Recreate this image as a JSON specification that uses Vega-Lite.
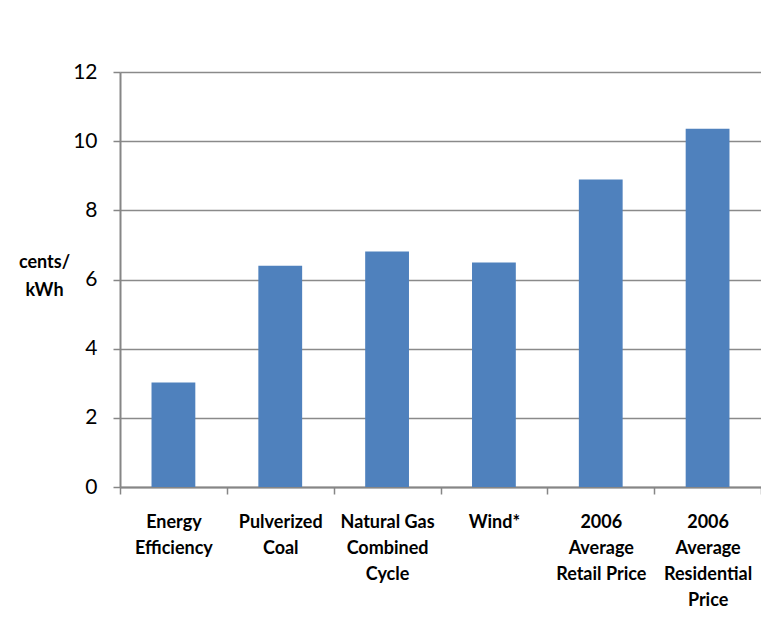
{
  "$schema": "https://vega.github.io/schema/vega-lite/v6.json",
  "width": 641,
  "height": 415,
  "autosize": {"type": "none"},
  "padding": {"left": 120, "top": 72, "right": 0, "bottom": 141},
  "background": "white",
  "config": {"view": {"stroke": null}, "font": "Lato"},
  "data": {
    "values": [
      {"resource": "Energy Efficiency", "cost": 3.02},
      {"resource": "Pulverized Coal", "cost": 6.4},
      {"resource": "Natural Gas Combined Cycle", "cost": 6.81},
      {"resource": "Wind*", "cost": 6.49},
      {"resource": "2006 Average Retail Price", "cost": 8.89},
      {"resource": "2006 Average Residential Price", "cost": 10.36}
    ]
  },
  "mark": {"type": "bar", "color": "#4F81BD", "width": {"band": 0.41}},
  "encoding": {
    "x": {
      "field": "resource",
      "type": "nominal",
      "sort": null,
      "scale": {"paddingInner": 0, "paddingOuter": 0},
      "axis": {
        "title": null,
        "labelAngle": 0,
        "labelFont": "Lato",
        "labelFontWeight": "bold",
        "labelFontSize": 18,
        "labelColor": "#000000",
        "labelLineHeight": 26,
        "labelBaseline": "top",
        "labelPadding": 19,
        "labelExpr": "{'Energy Efficiency':['Energy','Efficiency'],'Pulverized Coal':['Pulverized','Coal'],'Natural Gas Combined Cycle':['Natural Gas','Combined','Cycle'],'Wind*':['Wind*'],'2006 Average Retail Price':['2006','Average','Retail Price'],'2006 Average Residential Price':['2006','Average','Residential','Price']}[datum.label]",
        "labelLimit": 200,
        "tickBand": "extent",
        "tickSize": 7,
        "tickColor": "#868686",
        "tickWidth": 1.5,
        "domainColor": "#868686",
        "domainWidth": 2,
        "grid": false
      }
    },
    "y": {
      "field": "cost",
      "type": "quantitative",
      "scale": {"domain": [0, 12], "nice": false},
      "axis": {
        "values": [0, 2, 4, 6, 8, 10, 12],
        "title": ["cents/", "kWh"],
        "titleAngle": 0,
        "titleFont": "Lato",
        "titleFontWeight": "bold",
        "titleFontSize": 18,
        "titleColor": "#000000",
        "titleLineHeight": 28,
        "titleAlign": "center",
        "titleBaseline": "middle",
        "titleX": -76,
        "titleY": 190,
        "labelFont": "Lato",
        "labelFontSize": 21,
        "labelColor": "#000000",
        "labelPadding": 16,
        "tickSize": 7,
        "tickColor": "#868686",
        "tickWidth": 1.5,
        "domainColor": "#868686",
        "domainWidth": 2,
        "grid": true,
        "gridColor": "#8A8A8A",
        "gridWidth": 1.5
      }
    }
  }
}
